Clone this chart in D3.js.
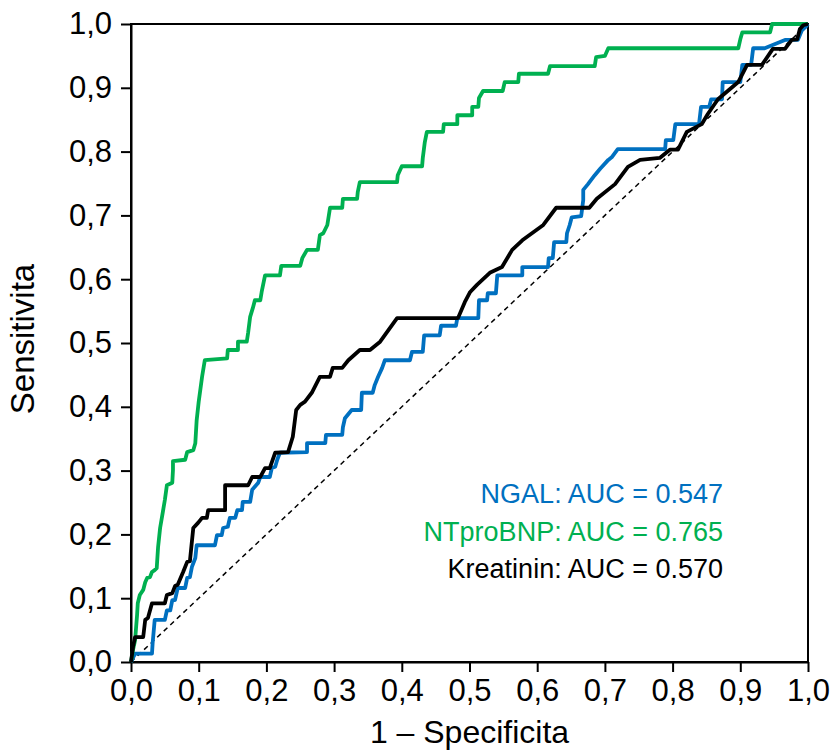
<!DOCTYPE html>
<html lang="cs">
<head>
<meta charset="UTF-8">
<title>ROC</title>
<script src="https://d3js.org/d3.v7.min.js"></script>
<style>
  body { margin: 0; background: #fff; }
  svg { display: block; font-family: "Liberation Sans", Arial, sans-serif; }
  .axis path, .axis line { stroke: #000; stroke-width: 2; }
  .axis text { font-size: 31px; fill: #000; }
</style>
</head>
<body>
<svg id="chart" width="834" height="751"></svg>
<script>
// x = 1 - specificita, y = sensitivita
const ngalX = [0,0.006,0.031,0.032,0.035,0.050,0.053,0.058,0.061,0.065,0.069,0.080,0.083,0.087,0.090,0.095,0.097,0.124,0.127,0.134,0.136,0.143,0.146,0.154,0.157,0.164,0.165,0.176,0.179,0.188,0.191,0.205,0.208,0.213,0.216,0.220,0.260,0.260,0.287,0.288,0.312,0.313,0.316,0.326,0.340,0.341,0.357,0.360,0.365,0.371,0.375,0.412,0.415,0.431,0.433,0.456,0.458,0.480,0.482,0.513,0.514,0.526,0.527,0.539,0.541,0.578,0.578,0.616,0.617,0.623,0.625,0.643,0.644,0.648,0.651,0.665,0.668,0.668,0.675,0.685,0.693,0.705,0.710,0.719,0.789,0.790,0.801,0.804,0.839,0.842,0.854,0.857,0.873,0.874,0.900,0.903,0.916,0.919,0.936,0.966,0.985,0.991,0.996,1];
const ngalY = [0,0.013,0.013,0.030,0.066,0.066,0.081,0.081,0.097,0.097,0.116,0.116,0.132,0.133,0.149,0.163,0.183,0.183,0.199,0.199,0.210,0.212,0.226,0.226,0.238,0.238,0.251,0.251,0.270,0.281,0.290,0.290,0.304,0.306,0.317,0.328,0.329,0.343,0.343,0.356,0.356,0.368,0.382,0.395,0.395,0.422,0.422,0.434,0.447,0.461,0.473,0.473,0.486,0.486,0.512,0.512,0.527,0.527,0.539,0.539,0.567,0.567,0.578,0.578,0.606,0.606,0.619,0.619,0.633,0.633,0.658,0.658,0.672,0.685,0.697,0.699,0.724,0.740,0.749,0.763,0.773,0.787,0.791,0.804,0.804,0.818,0.818,0.843,0.843,0.870,0.870,0.882,0.882,0.909,0.909,0.936,0.936,0.962,0.962,0.975,0.975,0.990,0.995,1];

const bnpX = [0,0.003,0.006,0.009,0.010,0.013,0.018,0.021,0.024,0.028,0.031,0.035,0.038,0.040,0.043,0.047,0.050,0.053,0.061,0.062,0.062,0.080,0.083,0.092,0.095,0.097,0.100,0.105,0.109,0.142,0.143,0.158,0.158,0.171,0.173,0.176,0.180,0.183,0.191,0.193,0.198,0.220,0.222,0.250,0.253,0.260,0.276,0.279,0.284,0.290,0.294,0.312,0.313,0.334,0.335,0.338,0.393,0.394,0.400,0.430,0.431,0.434,0.437,0.461,0.462,0.482,0.482,0.504,0.504,0.513,0.514,0.520,0.549,0.552,0.572,0.573,0.616,0.619,0.685,0.687,0.700,0.705,0.897,0.900,0.903,0.944,0.947,1];
const bnpY = [0,0.019,0.034,0.074,0.092,0.105,0.113,0.125,0.132,0.133,0.141,0.144,0.147,0.180,0.210,0.235,0.254,0.277,0.281,0.301,0.315,0.317,0.329,0.332,0.343,0.379,0.408,0.447,0.473,0.476,0.489,0.489,0.502,0.502,0.516,0.541,0.555,0.567,0.567,0.580,0.606,0.606,0.621,0.621,0.633,0.646,0.646,0.669,0.672,0.685,0.712,0.712,0.726,0.726,0.737,0.752,0.752,0.763,0.777,0.777,0.790,0.815,0.831,0.831,0.843,0.843,0.857,0.857,0.870,0.870,0.884,0.895,0.895,0.909,0.909,0.922,0.922,0.934,0.934,0.948,0.950,0.962,0.962,0.976,0.987,0.987,1,1];

const kreaX = [0,0.003,0.006,0.018,0.021,0.025,0.031,0.050,0.053,0.061,0.065,0.069,0.077,0.083,0.087,0.092,0.099,0.105,0.112,0.114,0.139,0.139,0.173,0.179,0.191,0.198,0.205,0.213,0.232,0.239,0.244,0.250,0.257,0.267,0.279,0.294,0.298,0.312,0.321,0.338,0.353,0.368,0.393,0.483,0.493,0.501,0.511,0.530,0.548,0.563,0.578,0.609,0.628,0.677,0.688,0.715,0.734,0.752,0.781,0.796,0.808,0.821,0.843,0.852,0.867,0.897,0.910,0.932,0.948,0.966,0.976,0.984,0.988,0.993,1];
const kreaY = [0,0.024,0.039,0.039,0.066,0.069,0.092,0.092,0.105,0.108,0.119,0.121,0.141,0.157,0.158,0.210,0.218,0.226,0.226,0.238,0.238,0.277,0.277,0.290,0.290,0.304,0.304,0.328,0.329,0.353,0.395,0.403,0.408,0.422,0.447,0.447,0.461,0.461,0.473,0.489,0.489,0.502,0.539,0.539,0.564,0.580,0.591,0.610,0.619,0.646,0.661,0.685,0.712,0.712,0.726,0.749,0.776,0.787,0.790,0.803,0.803,0.831,0.843,0.859,0.882,0.909,0.936,0.936,0.961,0.961,0.975,0.976,0.992,0.998,1];

const series = [
  { name: "NGAL", auc: "0.547", color: "#0070C0", xs: ngalX, ys: ngalY },
  { name: "NTproBNP", auc: "0.765", color: "#00B050", xs: bnpX, ys: bnpY },
  { name: "Kreatinin", auc: "0.570", color: "#000000", xs: kreaX, ys: kreaY }
];
const ticks = [0, 0.1, 0.2, 0.3, 0.4, 0.5, 0.6, 0.7, 0.8, 0.9, 1.0];

const margin = { top: 24, right: 26, bottom: 89, left: 131 },
      width = 834 - margin.left - margin.right,
      height = 751 - margin.top - margin.bottom;

const svg = d3.select("#chart");
const g = svg.append("g").attr("transform", `translate(${margin.left},${margin.top})`);

const x = d3.scaleLinear().domain([0, 1]).range([0, width]);
const y = d3.scaleLinear().domain([0, 1]).range([height, 0]);
const fmt = d => d3.format(".1f")(d).replace(".", ",");

// frame
g.append("rect")
  .attr("width", width).attr("height", height)
  .attr("fill", "none").attr("stroke", "#000").attr("stroke-width", 2);

// axes
g.append("g").attr("class", "axis")
  .attr("transform", `translate(0,${height})`)
  .call(d3.axisBottom(x).tickValues(ticks).tickFormat(fmt).tickSize(10).tickSizeOuter(0).tickPadding(7));

g.append("g").attr("class", "axis")
  .call(d3.axisLeft(y).tickValues(ticks).tickFormat(fmt).tickSize(10).tickSizeOuter(0).tickPadding(9));

// reference diagonal
g.append("line")
  .attr("x1", x(0)).attr("y1", y(0)).attr("x2", x(1)).attr("y2", y(1))
  .attr("stroke", "#000").attr("stroke-width", 1.5).attr("stroke-dasharray", "5,4");

const line = d3.line().x(d => x(d[0])).y(d => y(d[1]));

// blue first, black on top
series.forEach(s => {
  g.append("path")
    .datum(s.xs.map((v, i) => [v, s.ys[i]]))
    .attr("fill", "none")
    .attr("stroke", s.color)
    .attr("stroke-width", 3.8)
    .attr("stroke-linejoin", "round")
    .attr("d", line);
});

// legend
series.forEach((s, i) => {
  svg.append("text")
    .attr("x", 723).attr("y", 503 + i * 37.5)
    .attr("text-anchor", "end")
    .attr("font-size", 27)
    .attr("fill", s.color)
    .text(`${s.name}: AUC = ${s.auc}`);
});

// axis titles
svg.append("text")
  .attr("x", margin.left + width / 2).attr("y", 743)
  .attr("text-anchor", "middle").attr("font-size", 32)
  .text("1 – Specificita");

svg.append("text")
  .attr("transform", `translate(34,${margin.top + height / 2 - 4}) rotate(-90)`)
  .attr("text-anchor", "middle").attr("font-size", 33)
  .text("Sensitivita");
</script>
</body>
</html>
